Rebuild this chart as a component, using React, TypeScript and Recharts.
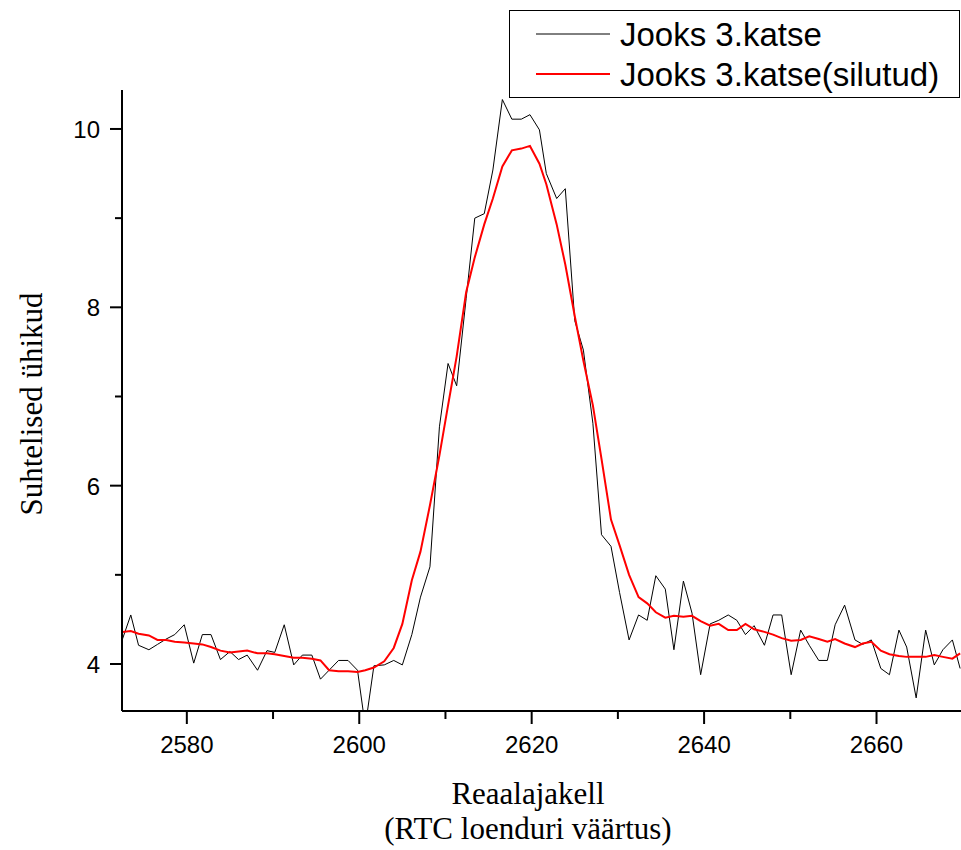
import { LineChart, Line, XAxis, YAxis, Label } from "recharts";

// RTC counter values (x) and the two measured series
const X_VALUES = [
  2572.5, 2573.5, 2574.4, 2575.6, 2576.6, 2577.6, 2578.6, 2579.7, 2580.8, 2581.8,
  2582.8, 2583.9, 2585.0, 2586.0, 2587.0, 2588.2, 2589.3, 2590.2, 2591.3, 2592.4,
  2593.4, 2594.5, 2595.5, 2596.5, 2597.6, 2598.7, 2599.8, 2600.7, 2601.7, 2602.9,
  2604.0, 2605.0, 2606.1, 2607.1, 2608.2, 2609.3, 2610.3, 2611.3, 2612.4, 2613.4,
  2614.5, 2615.5, 2616.6, 2617.7, 2618.8, 2619.8, 2620.9, 2621.7, 2622.9, 2623.9,
  2625.0, 2626.0, 2627.1, 2628.1, 2629.2, 2630.2, 2631.3, 2632.4, 2633.4, 2634.4,
  2635.5, 2636.5, 2637.6, 2638.6, 2639.6, 2640.7, 2641.7, 2642.8, 2643.8, 2644.8,
  2645.8, 2647.0, 2648.0, 2649.0, 2650.1, 2651.2, 2652.2, 2653.3, 2654.3, 2655.2,
  2656.3, 2657.5, 2658.4, 2659.4, 2660.5, 2661.5, 2662.6, 2663.5, 2664.6, 2665.7,
  2666.7, 2667.7, 2668.8, 2669.7,
];

const RAW = [
  4.27, 4.55, 4.21, 4.16, 4.22, 4.28, 4.33, 4.44, 4.01, 4.33,
  4.33, 4.05, 4.14, 4.05, 4.10, 3.93, 4.15, 4.13, 4.44, 3.99,
  4.10, 4.10, 3.83, 3.93, 4.04, 4.04, 3.93, 3.30, 3.98, 3.99,
  4.04, 3.99, 4.33, 4.75, 5.09, 6.66, 7.37, 7.12, 8.10, 9.00,
  9.05, 9.54, 10.33, 10.11, 10.11, 10.16, 9.99, 9.50, 9.22, 9.33,
  7.85, 7.52, 6.70, 5.45, 5.32, 4.80, 4.27, 4.55, 4.49, 4.99,
  4.84, 4.16, 4.93, 4.57, 3.88, 4.45, 4.49, 4.55, 4.49, 4.33,
  4.43, 4.21, 4.55, 4.55, 3.88, 4.38, 4.21, 4.04, 4.04, 4.44,
  4.66, 4.27, 4.22, 4.27, 3.95, 3.88, 4.38, 4.19, 3.62, 4.38,
  3.99, 4.16, 4.27, 3.95,
];

const SMOOTHED = [
  4.36, 4.37, 4.34, 4.32, 4.27, 4.27, 4.25, 4.24, 4.23, 4.22,
  4.19, 4.15, 4.13, 4.14, 4.15, 4.12, 4.12, 4.11, 4.09, 4.07,
  4.07, 4.06, 4.04, 3.93, 3.92, 3.92, 3.91, 3.93, 3.96, 4.03,
  4.18, 4.45, 4.94, 5.26, 5.78, 6.34, 6.90, 7.45, 8.17, 8.56,
  8.93, 9.22, 9.58, 9.76, 9.78, 9.81, 9.61, 9.38, 8.93, 8.48,
  7.90, 7.40, 6.90, 6.30, 5.62, 5.33, 5.00, 4.75, 4.68, 4.58,
  4.52, 4.54, 4.53, 4.54, 4.48, 4.43, 4.45, 4.38, 4.38, 4.45,
  4.39, 4.36, 4.33, 4.29, 4.26, 4.27, 4.31, 4.28, 4.25, 4.28,
  4.23, 4.19, 4.23, 4.25, 4.15, 4.11, 4.09, 4.08, 4.08, 4.08,
  4.10, 4.08, 4.06, 4.12,
];

const X_TICKS = [2580, 2590, 2600, 2610, 2620, 2630, 2640, 2650, 2660];
const Y_TICKS = [4, 5, 6, 7, 8, 9, 10];

const SERIES = [
  { key: "raw", name: "Jooks 3.katse", color: "#000000", width: 1 },
  { key: "smooth", name: "Jooks 3.katse(silutud)", color: "#ff0000", width: 2 },
];

const data = X_VALUES.map((x, i) => ({ x, raw: RAW[i], smooth: SMOOTHED[i] }));

const W = 961;
const H = 850;
const PLOT_LEFT = 122;
const PLOT_TOP = 90;
const PLOT_BOTTOM = 711;
const SANS = "'Liberation Sans', Arial, sans-serif";
const SERIF = "'Liberation Serif', 'Times New Roman', serif";

function XTick(props: any) {
  const { x, payload } = props;
  const major = payload.value % 20 === 0;
  return (
    <g>
      <line x1={x} x2={x} y1={PLOT_BOTTOM} y2={PLOT_BOTTOM + (major ? 13 : 8)} stroke="#000" strokeWidth={2} />
      {major && (
        <text x={x} y={PLOT_BOTTOM + 42} textAnchor="middle" fontFamily={SANS} fontSize={24} fill="#000">
          {payload.value}
        </text>
      )}
    </g>
  );
}

function YTick(props: any) {
  const { y, payload } = props;
  const major = payload.value % 2 === 0;
  return (
    <g>
      <line x1={PLOT_LEFT - (major ? 12 : 7)} x2={PLOT_LEFT} y1={y} y2={y} stroke="#000" strokeWidth={2} />
      {major && (
        <text x={PLOT_LEFT - 22} y={y} dy={9} textAnchor="end" fontFamily={SANS} fontSize={24} fill="#000">
          {payload.value}
        </text>
      )}
    </g>
  );
}

function XTitle() {
  return (
    <text x={528} fontFamily={SERIF} fontSize={31} fill="#000" textAnchor="middle">
      <tspan x={528} y={804}>Reaalajakell</tspan>
      <tspan x={528} y={839}>(RTC loenduri väärtus)</tspan>
    </text>
  );
}

function YTitle() {
  return (
    <text
      x={31}
      y={404}
      transform="rotate(-90 31 404)"
      textAnchor="middle"
      dominantBaseline="central"
      fontFamily={SERIF}
      fontSize={31}
      fill="#000"
    >
      Suhtelised ühikud
    </text>
  );
}

function LegendBox() {
  return (
    <div
      style={{
        position: "absolute", left: 509, top: 10, width: 451, height: 88,
        border: "1px solid #000", boxSizing: "border-box", background: "#fff",
      }}
    >
      <svg width={449} height={86}>
        {SERIES.map((s, i) => {
          const cy = 23 + i * 40;
          return (
            <g key={s.key}>
              <line x1={26} x2={100} y1={cy} y2={cy} stroke={s.color} strokeWidth={s.width} />
              <text x={110} y={cy} dy={12} fontFamily={SANS} fontSize={33} fill="#000">
                {s.name}
              </text>
            </g>
          );
        })}
      </svg>
    </div>
  );
}

export default function App() {
  return (
    <div style={{ position: "absolute", left: 0, top: 0, width: W, height: H, background: "#fff" }}>
      <LineChart
        width={W}
        height={H}
        data={data}
        margin={{ top: PLOT_TOP, right: 0, bottom: 0, left: 0 }}
      >
        <XAxis
          dataKey="x"
          type="number"
          domain={[2572.48, 2669.8]}
          allowDataOverflow
          ticks={X_TICKS}
          interval={0}
          height={H - PLOT_BOTTOM}
          axisLine={{ stroke: "#000", strokeWidth: 2 }}
          tickLine={false}
          tick={<XTick />}
        >
          <Label content={<XTitle />} />
        </XAxis>
        <YAxis
          type="number"
          domain={[3.473, 10.437]}
          allowDataOverflow
          ticks={Y_TICKS}
          interval={0}
          width={PLOT_LEFT}
          axisLine={{ stroke: "#000", strokeWidth: 2 }}
          tickLine={false}
          tick={<YTick />}
        >
          <Label content={<YTitle />} />
        </YAxis>
        {SERIES.map((s) => (
          <Line
            key={s.key}
            type="linear"
            dataKey={s.key}
            name={s.name}
            stroke={s.color}
            strokeWidth={s.width}
            dot={false}
            activeDot={false}
            isAnimationActive={false}
          />
        ))}
      </LineChart>
      <LegendBox />
    </div>
  );
}
